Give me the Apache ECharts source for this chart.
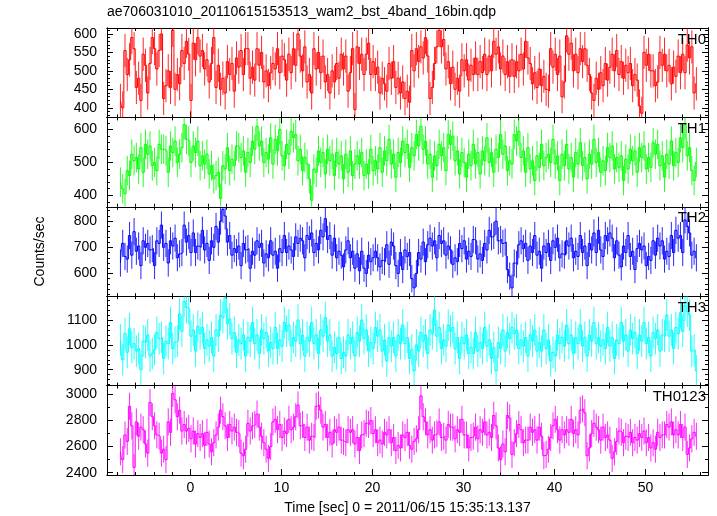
<!DOCTYPE html>
<html><head><meta charset="utf-8">
<script src="https://cdn.jsdelivr.net/npm/echarts@6/dist/echarts.min.js"></script>
<style>html,body{margin:0;padding:0;background:#fff}#c{width:717px;height:516px}</style>
</head><body><div id="c"></div>
<script>
// time bins (sec), 0.25 s each
const binStart = -7.8, binWidth = 0.25;

const th0 = [
420,400,555,490, 530,590,560,455, 480,420,545,515, 440,520,590,560, 505,555,600,425,
460,500,455,610, 450,490,465,555, 520,580,545,420, 575,530,590,540, 555,505,530,470,
520,590,455,515, 450,480,440,525, 490,520,445,535, 510,555,490,560, 560,480,510,475,
560,515,550,470, 500,460,495,520, 505,560,495,540, 530,475,545,495, 560,515,600,540,
500,565,470,490, 440,560,505,550, 495,540,470,490, 440,500,470,520, 480,545,505,540,
445,495,560,395, 565,520,545,490, 545,575,490,525, 490,510,440,480, 465,445,520,480,
525,455,480,440, 470,425,445,415, 555,500,560,525, 565,535,590,540, 425,455,520,565,
610,565,585,505, 525,465,510,450, 480,445,530,500, 530,475,515,490, 535,490,525,495,
545,490,540,500, 580,545,565,505, 540,490,525,485, 530,485,525,500, 545,505,580,535,
520,465,495,455, 505,460,485,450, 445,560,510,545, 490,540,430,470, 595,545,575,500,
545,495,560,525, 560,515,490,440, 420,480,450,495, 460,520,475,510, 545,500,555,490,
525,480,515,495, 520,460,490,475, 405,385,550,515, 545,500,500,460, 470,550,515,545,
500,515,465,510, 485,540,495,545, 495,570,535,565, 440,465];

const th1 = [
440,420,405,475, 460,525,505,515, 480,545,470,555, 525,550,490,500, 475,555,540,540,
535,470,550,530, 565,500,525,545, 615,570,565,500, 550,530,565,490, 520,495,525,465,
490,450,460,470, 390,490,480,545, 475,510,490,550, 545,515,535,470, 530,500,565,540,
610,550,565,500, 530,510,575,495, 570,535,600,520, 490,555,525,595, 575,585,505,540,
475,515,495,450, 385,480,470,535, 500,530,465,540, 505,525,460,530, 495,520,450,525,
470,535,460,495, 520,495,530,460, 495,465,540,475, 505,480,545,470, 535,505,570,495,
525,455,530,500, 565,530,555,485, 545,520,585,550, 610,540,565,495, 525,455,520,490,
555,520,545,475, 585,555,580,505, 535,465,530,500, 455,525,490,555, 495,530,465,535,
505,575,500,530, 470,540,515,585, 525,550,475,505, 495,585,565,595, 515,535,470,545,
480,505,445,520, 485,555,490,515, 525,500,570,495, 520,445,525,490, 555,480,515,455,
530,495,560,490, 515,450,525,495, 570,500,530,470, 505,475,545,515, 550,480,515,485,
520,445,510,480, 540,505,535,470, 545,515,550,480, 515,485,560,525, 555,490,520,455,
525,495,565,490, 530,500,575,545, 615,520,545,475, 445,500];

const th2 = [
640,715,665,655, 745,670,760,685, 705,630,725,700, 715,690,695,630, 725,715,785,700,
715,640,725,705, 735,660,675,680, 785,720,745,680, 755,680,705,700, 765,690,715,650,
725,700,780,720, 800,845,820,720, 745,670,695,680, 705,630,715,690, 695,620,685,670,
725,700,715,640, 675,660,725,670, 685,620,695,680, 745,680,705,690, 665,740,715,735,
725,660,745,730, 755,680,715,690, 765,740,810,730, 745,670,735,660, 685,670,625,690,
725,660,685,620, 675,610,685,620, 600,670,645,660, 685,660,625,650, 645,710,635,720,
705,630,600,680, 615,690,665,680, 580,545,600,680, 655,720,645,710, 735,705,725,660,
745,715,725,670, 705,690,635,660, 645,715,695,725, 655,685,665,730, 725,655,675,650,
715,690,765,740, 745,800,725,730, 715,720,615,590, 545,640,635,710, 725,695,715,650,
705,680,745,670, 685,620,705,680, 715,650,725,700, 735,660,675,670, 725,705,735,660,
685,665,745,680, 705,630,715,690, 755,680,765,690, 665,745,725,755, 735,660,725,670,
625,705,680,745, 665,685,615,695, 715,690,705,630, 665,650,725,670, 735,705,725,655,
685,665,745,680, 765,735,745,680, 805,780,755,670, 685,660];

const th3 = [
1020,940,1045,970, 1065,990,1005,975, 985,900,1015,1010, 1040,955,965,980, 1050,1025,1030,945,
1015,1005,1090,985, 1010,1015,1125,1055, 1175,1150,1145,1035, 1060,975,1075,1045, 1070,985,1020,995,
1030,955,1060,1035, 1120,1110,1190,1085, 1105,1025,1050,970, 1020,1005,1040,955, 1030,1015,1090,1005,
1040,965,1060,1025, 1050,975,1010,985, 1070,985,1020,995, 1090,1055,1080,995, 1030,1015,1100,1005,
1040,955,1030,1015, 1090,1005,1040,965, 1060,1035,1110,1015, 1040,955,990,965, 1030,945,970,955,
1040,1005,1030,955, 1050,1015,1100,1025, 1060,975,1010,985, 1070,1035,1060,975, 1020,935,1030,995,
1030,955,1040,1005, 1080,1005,1030,945, 980,895,1000,975, 1050,1015,1040,965, 1060,1045,1140,1035,
1070,985,1020,995, 1080,1055,1070,985, 1030,945,1030,1005, 1040,965,990,965, 1050,975,1010,985,
1070,995,1020,945, 990,895,1010,985, 1060,975,1050,1025, 1070,1045,1060,985, 1020,995,1030,955,
1040,1015,1060,975, 1010,975,1060,985, 1020,935,970,955, 1040,1005,1030,995, 1080,1005,1040,965,
1030,1005,1080,995, 1030,955,1040,1015, 1090,1005,1030,995, 1020,985,1070,995, 1030,945,1020,1005,
1090,1015,1040,975, 1060,1025,1050,965, 1040,1015,1090,1005, 1030,955,1050,1025, 1060,975,1040,1035,
1120,1035,1060,985, 1070,1045,1130,1055, 1160,1135,1120,975, 980,895];

const th0123 = [
2560,2500,2690,2640, 2910,2760,2440,2790, 2680,2750,2730,2620, 2550,2940,2830,2760, 2690,2680,2550,2580,
2500,2790,2710,3010, 2960,2830,2880,2720, 2770,2720,2740,2660, 2720,2620,2700,2670, 2700,2610,2710,2620,
2560,2630,2690,2750, 2880,2830,2760,2670, 2770,2720,2750,2710, 2700,2550,2530,2580, 2780,2720,2760,2770,
2850,2750,2680,2630, 2580,2510,2600,2790, 2810,2730,2770,2670, 2720,2700,2810,2730, 2750,2830,2920,2760,
2770,2670,2750,2650, 2680,2670,2910,2920, 2880,2750,2770,2670, 2710,2620,2730,2710, 2750,2650,2640,2630,
2730,2710,2730,2620, 2670,2570,2690,2700, 2780,2770,2800,2700, 2730,2630,2650,2620, 2710,2690,2730,2630,
2670,2570,2610,2590, 2690,2670,2710,2610, 2580,2640,2660,2730, 2990,2830,2790,2690, 2730,2650,2690,2700,
2790,2670,2680,2650, 2770,2750,2750,2660, 2730,2710,2810,2690, 2690,2590,2670,2680, 2750,2660,2730,2710,
2790,2690,2710,2670, 2840,2760,2590,2500, 2620,2560,2840,2820, 2540,2630,2700,2770, 2730,2630,2650,2650,
2750,2710,2730,2650, 2750,2680,2530,2540, 2580,2670,2760,2810, 2730,2650,2730,2690, 2730,2710,2810,2700,
2730,2690,2880,2890, 2860,2530,2590,2700, 2780,2750,2730,2650, 2750,2670,2690,2650, 2510,2560,2640,2720,
2710,2630,2680,2670, 2710,2630,2670,2650, 2700,2670,2720,2630, 2670,2590,2630,2580, 2710,2670,2690,2690,
2770,2750,2790,2690, 2730,2690,2770,2670, 2750,2540,2590,2660, 2710,2680];

const panelNames = ['TH0', 'TH1', 'TH2', 'TH3', 'TH0123'];
const panelValues = [th0, th1, th2, th3, th0123];
const panelErrors = [45, 45, 52, 64, 104];          // typical 1-sigma error (counts/sec)
const panelColors = ['#ff0000', '#00ff00', '#0000ff', '#00ffff', '#ff00ff'];
const yRanges = [[374, 616], [365, 637], [513, 855], [836, 1196], [2382, 3069]];
const yTickLabels = [[400, 450, 500, 550, 600], [400, 500, 600], [600, 700, 800], [900, 1000, 1100], [2400, 2600, 2800, 3000]];
const yMinorSteps = [10, 20, 20, 20, 100];
const xRange = [-9.15, 56.85];
const xTickLabels = [0, 10, 20, 30, 40, 50];
const xMinorStep = 2;
const titleText = 'ae706031010_20110615153513_wam2_bst_4band_16bin.qdp';
const xTitle = 'Time [sec] 0 = 2011/06/15 15:35:13.137';
const yTitle = 'Counts/sec';

const FONT = 'Liberation Sans, Arial, Helvetica, sans-serif';
const gridLeft = 107, gridWidth = 601, gridTop0 = 28, panelH = 89.4;

function stepValues(lo, hi, step) {
  const out = [];
  const start = Math.ceil(lo / step) * step;
  for (let v = start; v <= hi + 1e-9; v += step) out.push(+v.toFixed(6));
  return out;
}
const plainFmt = v => String(Math.round(v));

const grids = [], xAxes = [], yAxes = [], series = [], graphics = [];
const xMinor = stepValues(xRange[0], xRange[1], xMinorStep);
const lineCol = '#000';

panelNames.forEach((name, i) => {
  const top = gridTop0 + i * panelH;
  grids.push({ left: gridLeft, width: gridWidth, top: top, height: panelH, containLabel: false });
  const isBottom = i === panelNames.length - 1;
  const axLine = { show: true, onZero: false, lineStyle: { color: lineCol, width: 1 } };
  const xBase = { type: 'value', gridIndex: i, min: xRange[0], max: xRange[1],
    splitLine: { show: false }, axisLine: axLine };
  const xi = xAxes.length;
  xAxes.push(Object.assign({}, xBase, { position: 'bottom',
    axisTick: { show: true, inside: true, length: 6, customValues: xTickLabels, lineStyle: { color: lineCol } },
    axisLabel: { show: isBottom, customValues: xTickLabels, formatter: plainFmt, color: '#000', fontSize: 14, fontFamily: FONT, margin: 6 } }));
  xAxes.push(Object.assign({}, xBase, { position: 'top',
    axisTick: { show: true, inside: true, length: 6, customValues: xTickLabels, lineStyle: { color: lineCol } },
    axisLabel: { show: false } }));
  xAxes.push(Object.assign({}, xBase, { position: 'bottom',
    axisTick: { show: true, inside: true, length: 3, customValues: xMinor, lineStyle: { color: lineCol } },
    axisLabel: { show: false } }));
  xAxes.push(Object.assign({}, xBase, { position: 'top',
    axisTick: { show: true, inside: true, length: 3, customValues: xMinor, lineStyle: { color: lineCol } },
    axisLabel: { show: false } }));

  const yr = yRanges[i];
  const yMinor = stepValues(yr[0], yr[1], yMinorSteps[i]);
  const yBase = { type: 'value', gridIndex: i, min: yr[0], max: yr[1],
    splitLine: { show: false }, axisLine: axLine };
  const yi = yAxes.length;
  yAxes.push(Object.assign({}, yBase, { position: 'left',
    axisTick: { show: true, inside: true, length: 6, customValues: yTickLabels[i], lineStyle: { color: lineCol } },
    axisLabel: { show: true, customValues: yTickLabels[i], formatter: plainFmt, color: '#000', fontSize: 14, fontFamily: FONT, margin: 10 } }));
  yAxes.push(Object.assign({}, yBase, { position: 'right',
    axisTick: { show: true, inside: true, length: 6, customValues: yTickLabels[i], lineStyle: { color: lineCol } },
    axisLabel: { show: false } }));
  yAxes.push(Object.assign({}, yBase, { position: 'left',
    axisTick: { show: true, inside: true, length: 3, customValues: yMinor, lineStyle: { color: lineCol } },
    axisLabel: { show: false } }));
  yAxes.push(Object.assign({}, yBase, { position: 'right',
    axisTick: { show: true, inside: true, length: 3, customValues: yMinor, lineStyle: { color: lineCol } },
    axisLabel: { show: false } }));

  const vals = panelValues[i];
  const err = panelErrors[i];
  const pts = vals.map((v, j) => [binStart + binWidth * (j + 0.5), v]);
  const color = panelColors[i];

  series.push({
    type: 'custom', xAxisIndex: xi, yAxisIndex: yi, silent: true, animation: false, clip: true,
    data: vals.map((v, j) => [binStart + binWidth * (j + 0.5), v, err]),
    renderItem: function (params, api) {
      const t = api.value(0), v = api.value(1), e = api.value(2);
      const lo = Math.max(v - e, yr[0]), hi = Math.min(v + e, yr[1]);
      const p1 = api.coord([t, lo]), p2 = api.coord([t, hi]);
      return { type: 'line', shape: { x1: p1[0], y1: p1[1], x2: p2[0], y2: p2[1] },
        style: { stroke: color, lineWidth: 1, opacity: 0.85 } };
    },
    z: 2
  });
  series.push({
    type: 'line', xAxisIndex: xi, yAxisIndex: yi, data: pts, step: 'middle',
    showSymbol: false, symbol: 'none', silent: true, animation: false, clip: true,
    lineStyle: { color: color, width: 1 }, itemStyle: { color: color }, z: 3
  });

  graphics.push({ type: 'text', right: 11, top: top + 4,
    style: { text: name, font: '15px ' + FONT, fill: '#000' }, z: 10 });
});

graphics.push({ type: 'text', left: gridLeft, top: 5, style: { text: titleText, font: '14px ' + FONT, fill: '#000' } });
graphics.push({ type: 'text', x: gridLeft + gridWidth / 2, y: 508,
  style: { text: xTitle, font: '14px ' + FONT, fill: '#000', textAlign: 'center', textVerticalAlign: 'middle' } });
graphics.push({ type: 'text', x: 40, y: gridTop0 + panelH * 2.5, rotation: Math.PI / 2,
  style: { text: yTitle, font: '14px ' + FONT, fill: '#000', textAlign: 'center', textVerticalAlign: 'middle' } });

const chart = echarts.init(document.getElementById('c'), null, { renderer: 'canvas' });
chart.setOption({
  backgroundColor: '#fff',
  animation: false,
  grid: grids, xAxis: xAxes, yAxis: yAxes, series: series, graphic: graphics
});
</script></body></html>
